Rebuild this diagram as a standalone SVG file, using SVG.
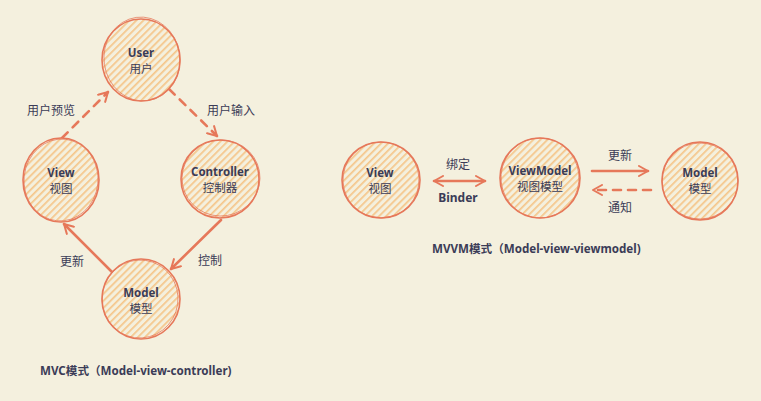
<svg xmlns="http://www.w3.org/2000/svg" width="761" height="401" viewBox="0 0 761 401">
<style>
.bg{fill:#f4f0de}
.node{fill:url(#hatch);stroke:#e6785a;stroke-width:1.6}
.node2{fill:none;stroke:#e6785a;stroke-width:0.9;opacity:0.8}
.t{font-family:"Noto Sans","Noto Sans CJK SC",sans-serif;font-size:11.5px;fill:#3b3c57;text-anchor:middle}
.tb{font-weight:bold}
.lbl{font-family:"Noto Sans","Noto Sans CJK SC",sans-serif;font-size:12px;fill:#3b3c57;text-anchor:middle}
.title{font-family:"Noto Sans","Noto Sans CJK SC",sans-serif;font-size:11.6px;font-weight:bold;fill:#3b3c57}
.ln{fill:none;stroke:#e6785a;stroke-width:2.6;stroke-linecap:round}
.dash{stroke-dasharray:8 7}
.ah{fill:none;stroke:#e6785a;stroke-width:2;stroke-linecap:round;stroke-linejoin:round}
</style>
<defs>
<pattern id="hatch" patternUnits="userSpaceOnUse" width="5" height="5" patternTransform="rotate(45)">
<rect width="5" height="5" fill="#f4f0de"/>
<rect x="0" y="0" width="1.7" height="5" fill="#f5c68a"/>
</pattern>
<marker id="arr" viewBox="0 0 12 12" refX="10" refY="6" markerWidth="12" markerHeight="12" markerUnits="userSpaceOnUse" orient="auto-start-reverse">
<path d="M1,1 L10,6 L1,11" class="ah"/>
</marker>
</defs>
<rect class="bg" width="761" height="401"/>

<g id="connectors">
<line class="ln dash" x1="62" y1="138" x2="108" y2="92" marker-end="url(#arr)"/>
<line class="ln dash" x1="169" y1="89" x2="217" y2="136" marker-end="url(#arr)"/>
<line class="ln" x1="112" y1="272" x2="64" y2="224" marker-end="url(#arr)"/>
<line class="ln" x1="221" y1="220" x2="171" y2="269" marker-end="url(#arr)"/>
<line class="ln" x1="434" y1="181" x2="485" y2="181" marker-start="url(#arr)" marker-end="url(#arr)"/>
<line class="ln" x1="592" y1="171" x2="648" y2="171" marker-end="url(#arr)"/>
<line class="ln dash" x1="651" y1="190" x2="593" y2="190" marker-end="url(#arr)"/>
<text class="lbl" x="51" y="115">用户预览</text>
<text class="lbl" x="231" y="115">用户输入</text>
<text class="lbl" x="72" y="266">更新</text>
<text class="lbl" x="210" y="265">控制</text>
<text class="lbl" x="458" y="169">绑定</text>
<text class="lbl tb" x="458" y="202">Binder</text>
<text class="lbl" x="620" y="160">更新</text>
<text class="lbl" x="620" y="212">通知</text>
</g>

<g id="user">
<ellipse class="node" cx="141" cy="60" rx="39" ry="41"/>
<ellipse class="node2" cx="142" cy="59" rx="38" ry="42" transform="rotate(-8 142 59)"/>
<text class="t tb" x="141" y="57">User</text>
<text class="t" x="141" y="73">用户</text>
</g>
<g id="view">
<ellipse class="node" cx="61" cy="180" rx="38" ry="42"/>
<ellipse class="node2" cx="61" cy="180" rx="37" ry="41" transform="rotate(6 61 180)"/>
<text class="t tb" x="61" y="177">View</text>
<text class="t" x="61" y="193">视图</text>
</g>
<g id="controller">
<ellipse class="node" cx="220" cy="179" rx="39" ry="39"/>
<ellipse class="node2" cx="221" cy="178" rx="39" ry="38" transform="rotate(-10 221 178)"/>
<text class="t tb" x="220" y="176">Controller</text>
<text class="t" x="220" y="192">控制器</text>
</g>
<g id="model">
<ellipse class="node" cx="141" cy="299" rx="39" ry="40"/>
<ellipse class="node2" cx="140" cy="299" rx="38" ry="39" transform="rotate(8 140 299)"/>
<text class="t tb" x="141" y="297">Model</text>
<text class="t" x="141" y="313">模型</text>
</g>
<text class="title" x="40" y="375">MVC模式（Model-view-controller)</text>

<g id="mvvm-view">
<ellipse class="node" cx="381" cy="180" rx="39" ry="38"/>
<ellipse class="node2" cx="381" cy="180" rx="38" ry="38" transform="rotate(8 381 180)"/>
<text class="t tb" x="380" y="177">View</text>
<text class="t" x="380" y="193">视图</text>
</g>
<g id="viewmodel">
<ellipse class="node" cx="540" cy="178" rx="40" ry="40"/>
<ellipse class="node2" cx="540" cy="178" rx="39" ry="40" transform="rotate(-6 540 178)"/>
<text class="t tb" x="540" y="175">ViewModel</text>
<text class="t" x="540" y="191">视图模型</text>
</g>
<g id="mvvm-model">
<ellipse class="node" cx="700" cy="181" rx="38" ry="39"/>
<ellipse class="node2" cx="700" cy="181" rx="38" ry="38" transform="rotate(10 700 181)"/>
<text class="t tb" x="700" y="177">Model</text>
<text class="t" x="700" y="193">模型</text>
</g>
<text class="title" x="432" y="253">MVVM模式（Model-view-viewmodel)</text>
</svg>
